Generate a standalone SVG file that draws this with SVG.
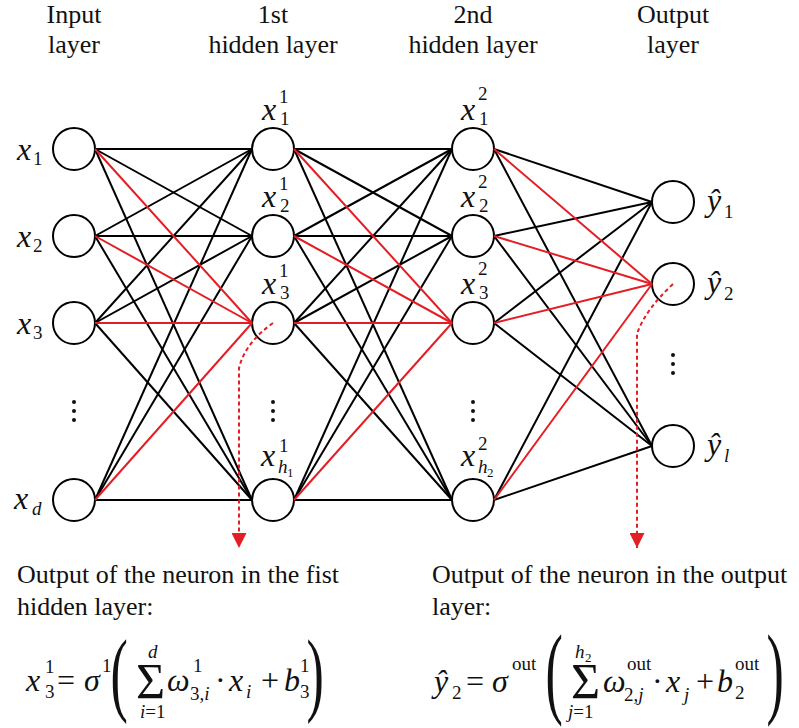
<svg xmlns="http://www.w3.org/2000/svg" width="799" height="728" viewBox="0 0 799 728">
<defs>
<style>
text { font-family: "Liberation Serif", "Times New Roman", serif; fill: #111; }
.h { font-size: 26px; text-anchor: middle; }
.t { font-size: 26px; }
.lb { font-size: 32px; font-style: italic; }
.m { font-size: 32px; }
.s { font-size: 19px; }
.ss { font-size: 13px; }
.it { font-style: italic; }
.sig { font-size: 50px; }
.par { font-size: 40px; }
.node { fill: #fff; stroke: #000; stroke-width: 2; }
.e { stroke: #000; stroke-width: 2; }
.r { stroke: #e31e24; stroke-width: 2; }
.dash { fill: none; stroke: #e31e24; stroke-width: 2; stroke-dasharray: 4 3; }
.dot { fill: #111; }
</style>
<marker id="ah" viewBox="0 0 15 15" refX="15" refY="7.5" markerWidth="15" markerHeight="15" markerUnits="userSpaceOnUse" orient="auto">
<path d="M0,0 L15,7.5 L0,15 Z" fill="#e31e24"/>
</marker>
</defs>
<rect width="799" height="728" fill="#fff"/>

<g id="headers">
<text class="h" x="74" y="23">Input</text>
<text class="h" x="74" y="53">layer</text>
<text class="h" x="273" y="23">1st</text>
<text class="h" x="273" y="53">hidden layer</text>
<text class="h" x="473" y="23">2nd</text>
<text class="h" x="473" y="53">hidden layer</text>
<text class="h" x="673" y="23">Output</text>
<text class="h" x="673" y="53">layer</text>
</g>

<!-- input layer -->
<g id="in1"><circle class="node" cx="74" cy="149" r="21"/><text class="lb" x="17" y="160">x</text><text class="s" x="33" y="165">1</text></g>
<g id="in2"><circle class="node" cx="74" cy="236" r="21"/><text class="lb" x="17" y="247">x</text><text class="s" x="33" y="252">2</text></g>
<g id="in3"><circle class="node" cx="74" cy="323" r="21"/><text class="lb" x="17" y="334">x</text><text class="s" x="33" y="339">3</text></g>
<g id="ind"><circle class="node" cx="74" cy="500" r="21"/><text class="lb" x="14" y="509">x</text><text class="s it" x="32" y="515">d</text></g>
<g id="in-ellipsis"><circle class="dot" cx="74" cy="402" r="2"/><circle class="dot" cx="74" cy="411" r="2"/><circle class="dot" cx="74" cy="420" r="2"/></g>

<!-- hidden layer 1 -->
<g id="h1-1"><circle class="node" cx="273" cy="149" r="21"/><text class="lb" x="262" y="120">x</text><text class="s" x="279" y="103">1</text><text class="s" x="280" y="125">1</text></g>
<g id="h1-2"><circle class="node" cx="273" cy="236" r="21"/><text class="lb" x="262" y="207">x</text><text class="s" x="279" y="190">1</text><text class="s" x="280" y="212">2</text></g>
<g id="h1-3"><circle class="node" cx="273" cy="323" r="21"/><text class="lb" x="262" y="294">x</text><text class="s" x="279" y="277">1</text><text class="s" x="280" y="299">3</text></g>
<g id="h1-h"><circle class="node" cx="273" cy="500" r="21"/><text class="lb" x="261" y="466">x</text><text class="s" x="279" y="452">1</text><text class="s it" x="278" y="473">h</text><text class="ss" x="287" y="477">1</text></g>
<g id="h1-ellipsis"><circle class="dot" cx="273" cy="402" r="2"/><circle class="dot" cx="273" cy="411" r="2"/><circle class="dot" cx="273" cy="420" r="2"/></g>

<!-- hidden layer 2 -->
<g id="h2-1"><circle class="node" cx="473" cy="149" r="21"/><text class="lb" x="461" y="120">x</text><text class="s" x="478" y="100">2</text><text class="s" x="479" y="125">1</text></g>
<g id="h2-2"><circle class="node" cx="473" cy="236" r="21"/><text class="lb" x="461" y="207">x</text><text class="s" x="478" y="188">2</text><text class="s" x="479" y="212">2</text></g>
<g id="h2-3"><circle class="node" cx="473" cy="323" r="21"/><text class="lb" x="461" y="294">x</text><text class="s" x="478" y="275">2</text><text class="s" x="479" y="299">3</text></g>
<g id="h2-h"><circle class="node" cx="473" cy="500" r="21"/><text class="lb" x="461" y="466">x</text><text class="s" x="478" y="450">2</text><text class="s it" x="478" y="473">h</text><text class="ss" x="487" y="477">2</text></g>
<g id="h2-ellipsis"><circle class="dot" cx="473" cy="402" r="2"/><circle class="dot" cx="473" cy="411" r="2"/><circle class="dot" cx="473" cy="420" r="2"/></g>

<!-- output layer -->
<g id="out1"><circle class="node" cx="673" cy="202" r="21"/><text class="lb" x="707" y="211">ŷ</text><text class="s" x="724" y="218">1</text></g>
<g id="out2"><circle class="node" cx="673" cy="284" r="21"/><text class="lb" x="707" y="293">ŷ</text><text class="s" x="724" y="300">2</text></g>
<g id="outl"><circle class="node" cx="673" cy="446" r="21"/><text class="lb" x="707" y="455">ŷ</text><text class="s it" x="724" y="462">l</text></g>
<g id="out-ellipsis"><circle class="dot" cx="673" cy="355" r="2"/><circle class="dot" cx="673" cy="364" r="2"/><circle class="dot" cx="673" cy="373" r="2"/></g>

<g id="connectors">
<!-- input -> hidden 1 -->
<line class="e" x1="95" y1="149" x2="252" y2="149"/>
<line class="e" x1="95" y1="149" x2="252" y2="236"/>
<line class="e" x1="95" y1="149" x2="252" y2="500"/>
<line class="e" x1="95" y1="236" x2="252" y2="149"/>
<line class="e" x1="95" y1="236" x2="252" y2="236"/>
<line class="e" x1="95" y1="236" x2="252" y2="500"/>
<line class="e" x1="95" y1="323" x2="252" y2="149"/>
<line class="e" x1="95" y1="323" x2="252" y2="236"/>
<line class="e" x1="95" y1="323" x2="252" y2="500"/>
<line class="e" x1="95" y1="500" x2="252" y2="149"/>
<line class="e" x1="95" y1="500" x2="252" y2="236"/>
<line class="e" x1="95" y1="500" x2="252" y2="500"/>
<line class="r" x1="95" y1="149" x2="252" y2="323"/>
<line class="r" x1="95" y1="236" x2="252" y2="323"/>
<line class="r" x1="95" y1="323" x2="252" y2="323"/>
<line class="r" x1="95" y1="500" x2="252" y2="323"/>
<!-- hidden 1 -> hidden 2 -->
<line class="e" x1="294" y1="149" x2="452" y2="149"/>
<line class="e" x1="294" y1="149" x2="452" y2="236"/>
<line class="e" x1="294" y1="149" x2="452" y2="500"/>
<line class="e" x1="294" y1="236" x2="452" y2="149"/>
<line class="e" x1="294" y1="236" x2="452" y2="236"/>
<line class="e" x1="294" y1="236" x2="452" y2="500"/>
<line class="e" x1="294" y1="323" x2="452" y2="149"/>
<line class="e" x1="294" y1="323" x2="452" y2="236"/>
<line class="e" x1="294" y1="323" x2="452" y2="500"/>
<line class="e" x1="294" y1="500" x2="452" y2="149"/>
<line class="e" x1="294" y1="500" x2="452" y2="236"/>
<line class="e" x1="294" y1="500" x2="452" y2="500"/>
<line class="r" x1="294" y1="149" x2="452" y2="323"/>
<line class="r" x1="294" y1="236" x2="452" y2="323"/>
<line class="r" x1="294" y1="323" x2="452" y2="323"/>
<line class="r" x1="294" y1="500" x2="452" y2="323"/>
<!-- hidden 2 -> output -->
<line class="e" x1="494" y1="149" x2="652" y2="202"/>
<line class="e" x1="494" y1="149" x2="652" y2="446"/>
<line class="e" x1="494" y1="236" x2="652" y2="202"/>
<line class="e" x1="494" y1="236" x2="652" y2="446"/>
<line class="e" x1="494" y1="323" x2="652" y2="202"/>
<line class="e" x1="494" y1="323" x2="652" y2="446"/>
<line class="e" x1="494" y1="500" x2="652" y2="202"/>
<line class="e" x1="494" y1="500" x2="652" y2="446"/>
<line class="r" x1="494" y1="149" x2="652" y2="284"/>
<line class="r" x1="494" y1="236" x2="652" y2="284"/>
<line class="r" x1="494" y1="323" x2="652" y2="284"/>
<line class="r" x1="494" y1="500" x2="652" y2="284"/>
<!-- dashed output arrows -->
<path class="dash" d="M273,323 Q245,343 239,368 L239,548" marker-end="url(#ah)"/>
<path class="dash" d="M673,284 Q645,310 637,334 L637,548" marker-end="url(#ah)"/>
</g>

<g id="caption-left">
<text class="t" x="17" y="583">Output of the neuron in the fist</text>
<text class="t" x="17" y="615">hidden layer:</text>
</g>
<g id="caption-right">
<text class="t" x="432" y="583">Output of the neuron in the output</text>
<text class="t" x="432" y="615">layer:</text>
</g>

<g id="formula-left">
<text class="m it" x="26" y="691">x</text>
<text class="s" x="45" y="673">1</text>
<text class="s" x="45" y="698">3</text>
<text class="m" x="57" y="691">=</text>
<text class="m it" x="84" y="691">σ</text>
<text class="s" x="102" y="672">1</text>
<text class="par" transform="translate(110.5,703.5) scale(1.3,2.35)">(</text>
<text class="sig" x="136" y="698">Σ</text>
<text class="s it" x="148" y="658">d</text>
<text class="s" x="140" y="718"><tspan class="it">i</tspan>=1</text>
<text class="m it" x="167" y="691">ω</text>
<text class="s" x="193" y="672">1</text>
<text class="s" x="190" y="700">3,<tspan class="it">i</tspan></text>
<text class="m" x="215" y="691">·</text>
<text class="m it" x="229" y="691">x</text>
<text class="s it" x="246" y="698">i</text>
<text class="m" x="261" y="691">+</text>
<text class="m it" x="284" y="691">b</text>
<text class="s" x="300" y="672">1</text>
<text class="s" x="300" y="698">3</text>
<text class="par" transform="translate(306.5,703.5) scale(1.3,2.35)">)</text>
</g>

<g id="formula-right">
<text class="m it" x="434" y="692">ŷ</text>
<text class="s" x="452" y="699">2</text>
<text class="m" x="466" y="692">=</text>
<text class="m it" x="492" y="692">σ</text>
<text class="s" x="512" y="670">out</text>
<text class="par" transform="translate(545.5,705) scale(1.3,2.52)">(</text>
<text class="sig" x="571" y="698">Σ</text>
<text class="s it" x="575" y="658">h</text>
<text class="ss" x="585" y="662">2</text>
<text class="s" x="568" y="718"><tspan class="it">j</tspan>=1</text>
<text class="m it" x="603" y="692">ω</text>
<text class="s" x="627" y="670">out</text>
<text class="s" x="624" y="701">2,<tspan class="it">j</tspan></text>
<text class="m" x="652" y="692">·</text>
<text class="m it" x="666" y="692">x</text>
<text class="s it" x="684" y="701">j</text>
<text class="m" x="696" y="692">+</text>
<text class="m it" x="717" y="692">b</text>
<text class="s" x="735" y="670">out</text>
<text class="s" x="735" y="699">2</text>
<text class="par" transform="translate(766.5,705) scale(1.3,2.52)">)</text>
</g>
</svg>
